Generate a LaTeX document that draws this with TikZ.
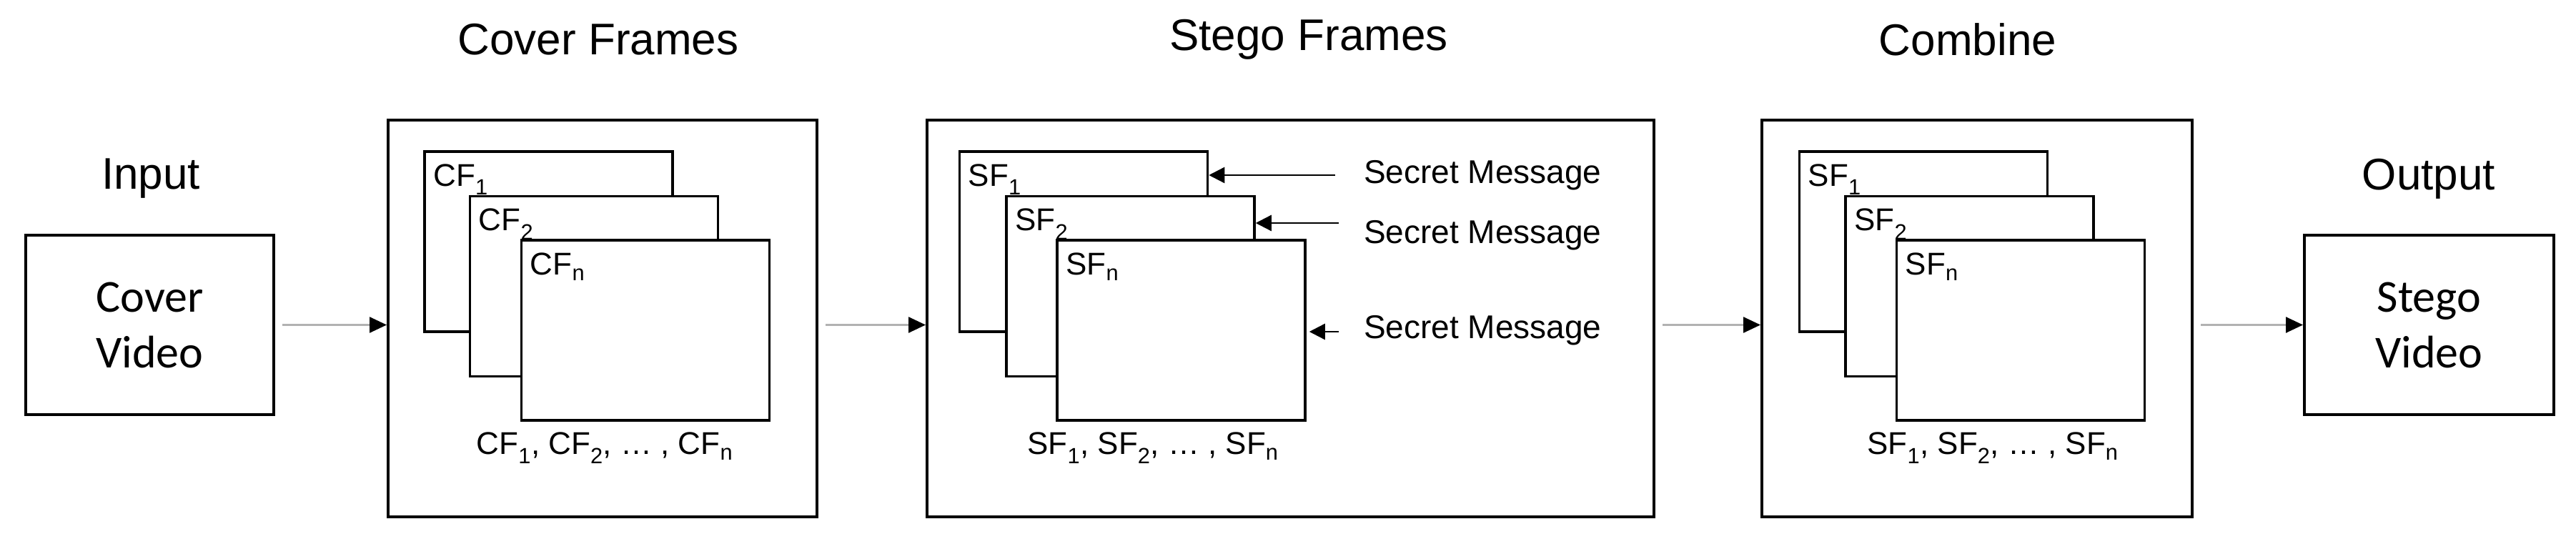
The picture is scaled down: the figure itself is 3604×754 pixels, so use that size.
\documentclass[tikz,border=0pt]{standalone}
\usepackage{fontspec}
\setmainfont{Liberation Sans}
\newfontfamily\boxfont{Carlito}
\usetikzlibrary{arrows.meta}
\begin{document}
\begin{tikzpicture}[x=1pt,y=-1pt,
  box/.style={draw,line width=4pt,inner sep=0pt},
  frame/.style={draw,fill=white,line width=3.5pt,minimum width=347pt,minimum height=252pt,inner sep=0pt},
  title/.style={font=\fontsize{62}{64}\selectfont},
  btext/.style={font=\boxfont\fontsize{64}{78}\selectfont,align=center},
  flab/.style={font=\fontsize{44}{48}\selectfont,anchor=base west,inner sep=0pt},
  blab/.style={font=\fontsize{44}{48}\selectfont,inner sep=0pt},
  smsg/.style={font=\fontsize{46}{50}\selectfont,anchor=west,inner sep=0pt},
  conn/.style={draw=gray!60,line width=2.5pt,-{Triangle[length=24pt,width=22pt,color=black]}},
  sarr/.style={draw=black,line width=2.5pt,-{Triangle[length=22pt,width=22pt]}}]
\useasboundingbox (0,0) rectangle (3604,754);
% input
\node[box,minimum width=347pt,minimum height=251pt] (inp) at (209.5,454.5) {};
\node[btext] at (inp) {Cover\\Video};
\node[title] (tin) at (211,250) {Input};
% cover frames
\node[box,minimum width=600pt,minimum height=555pt] (cov) at (843,445.5) {};
\node[title] (tcov) at (837,55) {Cover Frames};
\node[frame] (cf1) at (767.5,338) {};
\node[frame] (cf2) at (831,400.5) {};
\node[frame] (cfn) at (903,462) {};
\node[flab] at ([xshift=14pt,yshift=-50pt]cf1.north west) {CF\textsubscript{1}};
\node[flab] at ([xshift=14pt,yshift=-50pt]cf2.north west) {CF\textsubscript{2}};
\node[flab] at ([xshift=14pt,yshift=-50pt]cfn.north west) {CF\textsubscript{n}};
\node[blab] at (846,627) {CF\textsubscript{1}, CF\textsubscript{2}, \dots\ , CF\textsubscript{n}};
% stego frames
\node[box,minimum width=1017pt,minimum height=555pt] (stg) at (1805.5,445.5) {};
\node[title] (tstg) at (1831,55) {Stego Frames};
\node[frame] (sf1) at (1516,338) {};
\node[frame] (sf2) at (1581.5,400.5) {};
\node[frame] (sfn) at (1652.5,462) {};
\node[flab] at ([xshift=14pt,yshift=-50pt]sf1.north west) {SF\textsubscript{1}};
\node[flab] at ([xshift=14pt,yshift=-50pt]sf2.north west) {SF\textsubscript{2}};
\node[flab] at ([xshift=14pt,yshift=-50pt]sfn.north west) {SF\textsubscript{n}};
\node[blab] at (1613,627) {SF\textsubscript{1}, SF\textsubscript{2}, \dots\ , SF\textsubscript{n}};
\node[smsg] (sm1) at (1908,245) {Secret Message};
\node[smsg] (sm2) at (1908,329) {Secret Message};
\node[smsg] (sm3) at (1908,462) {Secret Message};
\coordinate (a1) at (1868,245);
\coordinate (a2) at (1873,312);
\coordinate (a3) at (1873,464);
\draw[sarr] (a1) -- (a1 -| sf1.east);
\draw[sarr] (a2) -- (a2 -| sf2.east);
\draw[sarr] (a3) -- ([xshift=4pt]a3 -| sfn.east);
% combine
\node[box,minimum width=602pt,minimum height=555pt] (cmb) at (2766,445.5) {};
\node[title] (tcmb) at (2753,55) {Combine};
\node[frame] (cs1) at (2691,338) {};
\node[frame] (cs2) at (2755.5,400.5) {};
\node[frame] (csn) at (2827,462) {};
\node[flab] at ([xshift=14pt,yshift=-50pt]cs1.north west) {SF\textsubscript{1}};
\node[flab] at ([xshift=14pt,yshift=-50pt]cs2.north west) {SF\textsubscript{2}};
\node[flab] at ([xshift=14pt,yshift=-50pt]csn.north west) {SF\textsubscript{n}};
\node[blab] at (2788,627) {SF\textsubscript{1}, SF\textsubscript{2}, \dots\ , SF\textsubscript{n}};
% output
\node[box,minimum width=349pt,minimum height=251pt] (out) at (3398.5,454.5) {};
\node[btext] at (out) {Stego\\Video};
\node[title] (tout) at (3398,250) {Output};
% connectors
\draw[conn,shorten <=10pt] (inp.east) -- (cov.west |- inp.east);
\draw[conn,shorten <=10pt] (cov.east |- inp.east) -- (stg.west |- inp.east);
\draw[conn,shorten <=10pt] (stg.east |- inp.east) -- (cmb.west |- inp.east);
\draw[conn,shorten <=10pt] (cmb.east |- inp.east) -- (out.west);
\end{tikzpicture}
\end{document}
